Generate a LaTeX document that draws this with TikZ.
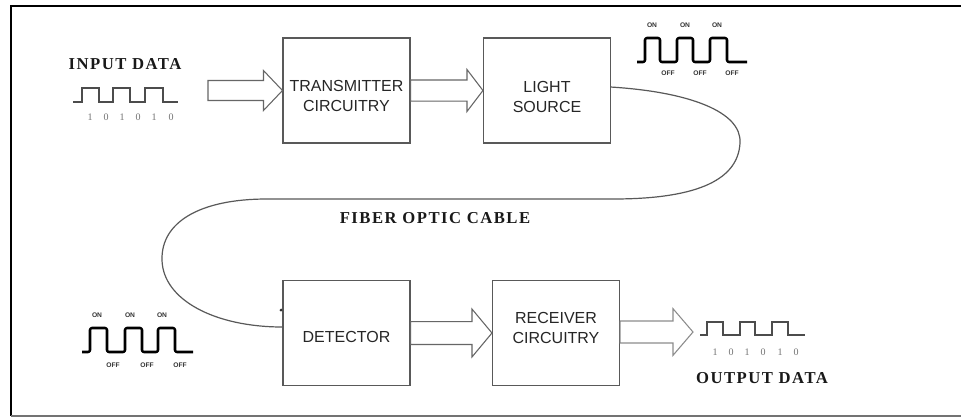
\documentclass[tikz,border=0pt]{standalone}
\usepackage{fontspec}
\setmainfont{Liberation Serif}
\newfontfamily\arialf{Liberation Sans}
\newfontfamily\lblf[LetterSpace=9]{Liberation Serif}
\usetikzlibrary{calc}
\newcommand\blockarrow[6]{%
  \draw[#6] let \p1=(#1), \p2=(#2) in
    (\x1,\y2+#3) -- (\x2-#5,\y2+#3) -- (\x2-#5,\y2+#4) -- (\x2,\y2)
    -- (\x2-#5,\y2-#4) -- (\x2-#5,\y2-#3) -- (\x1,\y2-#3) -- cycle;}
\begin{document}
\begin{tikzpicture}[x=0.75pt,y=-0.75pt,
  box/.style={draw=black!65, line width=0.8pt, minimum width=95.25pt, minimum height=78.75pt, inner sep=0pt},
  boxtext/.style={font=\arialf\fontsize{12}{15}\selectfont, align=center, text=black!85, inner sep=0pt},
  hollow/.style={draw=black!60, line width=0.8pt, fill=white},
  heavy/.style={line width=1.9pt, line join=round, rounded corners=1.5pt},
  light/.style={line width=0.8pt, draw=black!70},
  onoff/.style={font=\arialf\bfseries\fontsize{5}{6}\selectfont, inner sep=0pt, text=black!80},
  bit/.style={font=\fontsize{7.5}{8}\selectfont, inner sep=0pt, text=black!55},
  lbl/.style={font=\lblf\bfseries\fontsize{12.5}{14}\selectfont, inner sep=0pt, text=black!90},
  cable/.style={line width=0.9pt, draw=black!65}]
\useasboundingbox (0,0) rectangle (961,419);
\fill[white] (0,0) rectangle (961,419);
% frame
\draw[line width=1.6pt] (961,6) -- (11,6) -- (11,416);
\draw[line width=1pt, black!55] (11,416) -- (961,416);

% boxes
\node[box] (tx) at (346.5,90.5) {};
\node[box] (ls) at (547,90.5) {};
\node[box] (det) at (346.5,333) {};
\node[box] (rx) at (556,333) {};
\node[boxtext] (txt) at ([yshift=-4pt]tx.center) {TRANSMITTER\\CIRCUITRY};
\node[boxtext] (lst) at ([yshift=-4.5pt]ls.center) {LIGHT\\SOURCE};
\node[boxtext] (dett) at ([yshift=-3pt]det.center) {DETECTOR};
\node[boxtext] (rxt) at ([yshift=4pt]rx.center) {RECEIVER\\CIRCUITRY};

% hollow arrows
\coordinate (in1) at (208,92);
\coordinate (out1) at (693,332);
\blockarrow{in1}{tx.west}{7.5pt}{15pt}{14.25pt}{hollow}
\blockarrow{tx.east}{ls.west}{7.9pt}{15.75pt}{12pt}{hollow}
\blockarrow{det.east}{rx.west}{8.6pt}{18pt}{15pt}{hollow}
\blockarrow{rx.east}{out1}{8.25pt}{17.5pt}{15pt}{hollow, draw=black!45}

% cable
\draw[cable] ([yshift=2.6pt]ls.east) .. controls (690,92) and (742,112) .. (740,143)
  .. controls (738,183) and (690,199) .. (613,199) -- (267,199)
  .. controls (200,199) and (161,222) .. (162,260)
  .. controls (163,300) and (215,327) .. ([yshift=4.5pt]det.west);
\node[circle, fill=black!80, inner sep=0.8pt] (dot) at (281,310) {};

% labels
\node[lbl] (inlbl) at (125,64) {INPUT DATA};
\node[lbl] (cablbl) at (435,218) {FIBER OPTIC CABLE};
\node[lbl] (outlbl) at (762,378) {OUTPUT DATA};

% input data wave
\draw[light] (73,102) -| (82,88) -| (99,102) -| (113,88) -| (130,102) -| (145,88) -| (163,102) -- (178,102);
\foreach \x/\b [count=\i] in {90/1,106/0,122/1,138/0,154/1,171/0}
  \node[bit] (ib\i) at (\x,117) {\b};
% output data wave
\draw[light] (700,335) -| (707,322) -| (723,335) -| (740,322) -| (755,335) -| (772,322) -| (788,335) -- (805,335);
\foreach \x/\b [count=\i] in {715/1,731/0,747/1,763/0,780/1,796/0}
  \node[bit] (ob\i) at (\x,352) {\b};

% optical on/off waves
\draw[heavy] (637,62) -| (645,38) -| (660,62) -| (677,38) -| (693,62) -| (710,38) -| (727,62) -- (747,62);
\foreach \x [count=\i] in {652,685,717} \node[onoff] (ton\i) at (\x,25) {ON};
\foreach \x [count=\i] in {668,700,732} \node[onoff] (toff\i) at (\x,73) {OFF};
\draw[heavy] (82,352) -| (90,328) -| (107,352) -| (125,328) -| (142,352) -| (158,328) -| (175,352) -- (193,352);
\foreach \x [count=\i] in {97,130,162} \node[onoff] (bon\i) at (\x,315) {ON};
\foreach \x [count=\i] in {113,147,180} \node[onoff] (boff\i) at (\x,365) {OFF};
\end{tikzpicture}
\end{document}
